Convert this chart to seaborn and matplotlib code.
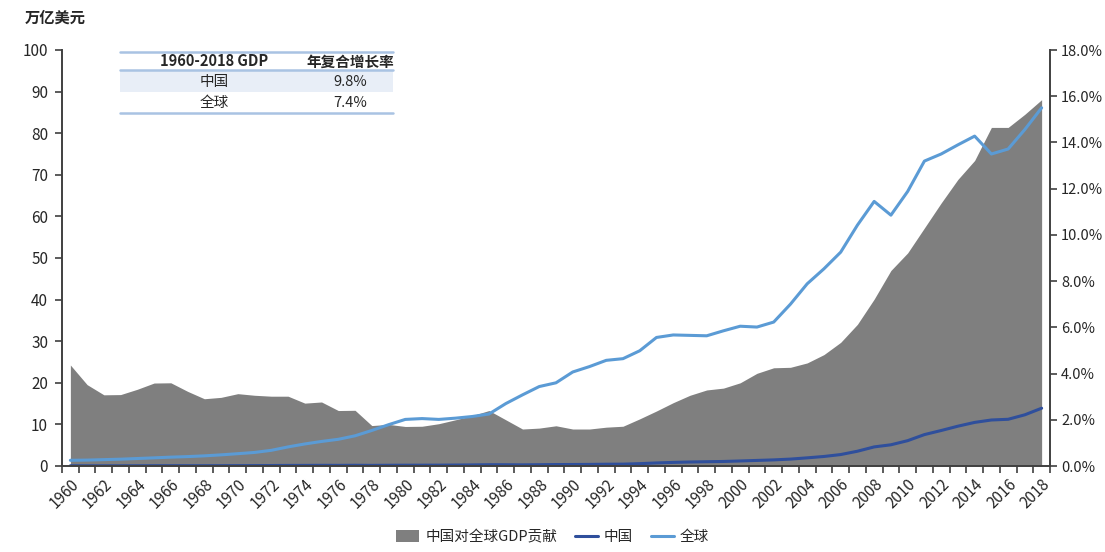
import numpy as np
import pandas as pd
import matplotlib
matplotlib.use("Agg")
import matplotlib.pyplot as plt
from matplotlib.lines import Line2D
from matplotlib.patches import Patch
from matplotlib.ticker import FixedLocator, PercentFormatter
import seaborn as sns

# ---- data -------------------------------------------------------------
years = list(range(1960, 2019))

# GDP, trillion USD
world_gdp = [1.37, 1.42, 1.53, 1.64, 1.80, 1.96, 2.13, 2.26, 2.44, 2.68,
             2.96, 3.26, 3.77, 4.59, 5.30, 5.90, 6.42, 7.26, 8.54, 9.93,
             11.2, 11.4, 11.2, 11.5, 11.9, 12.5, 15.0, 17.1, 19.1, 20.0,
             22.6, 23.9, 25.4, 25.8, 27.7, 30.9, 31.5, 31.4, 31.3, 32.5,
             33.6, 33.4, 34.6, 38.9, 43.8, 47.4, 51.4, 57.9, 63.6, 60.3,
             66.0, 73.3, 75.0, 77.2, 79.3, 75.0, 76.2, 80.9, 86.1]
china_gdp = [0.06, 0.05, 0.047, 0.051, 0.06, 0.07, 0.077, 0.073, 0.071, 0.08,
             0.093, 0.10, 0.114, 0.139, 0.144, 0.163, 0.154, 0.175, 0.15, 0.178,
             0.191, 0.196, 0.205, 0.231, 0.26, 0.309, 0.301, 0.273, 0.313, 0.348,
             0.361, 0.383, 0.427, 0.445, 0.564, 0.735, 0.864, 0.962, 1.03, 1.09,
             1.21, 1.34, 1.47, 1.66, 1.96, 2.29, 2.75, 3.55, 4.59, 5.10,
             6.09, 7.55, 8.53, 9.57, 10.48, 11.06, 11.23, 12.31, 13.89]
# China's share of world GDP, %
china_share = [4.37, 3.52, 3.08, 3.09, 3.32, 3.59, 3.60, 3.23, 2.91, 2.97,
               3.13, 3.06, 3.02, 3.02, 2.72, 2.77, 2.40, 2.41, 1.75, 1.80,
               1.71, 1.72, 1.83, 2.00, 2.18, 2.40, 2.00, 1.60, 1.64, 1.74,
               1.60, 1.60, 1.68, 1.72, 2.04, 2.38, 2.74, 3.06, 3.29, 3.37,
               3.60, 4.01, 4.25, 4.27, 4.46, 4.82, 5.35, 6.13, 7.22, 8.46,
               9.22, 10.30, 11.38, 12.40, 13.22, 14.65, 14.65, 15.22, 15.85]

table_header = ["1960-2018 GDP", "年复合增长率"]
table_rows = [["中国", "9.8%"], ["全球", "7.4%"]]

label_area = "中国对全球GDP贡献"
label_china = "中国"
label_world = "全球"
left_unit = "万亿美元"

df = pd.DataFrame({"year": years, "world": world_gdp,
                   "china": china_gdp, "share": china_share})

# ---- style ------------------------------------------------------------
sns.set_theme(style="white")
plt.rcParams["font.family"] = ["Noto Sans CJK SC", "DejaVu Sans"]

c_area = "#7f7f7f"
c_china = "#2f4f9c"
c_world = "#5b9bd5"
c_axis = "#404040"
c_text = "#262626"

fig = plt.figure(figsize=(11.05, 5.52), dpi=100)
ax = fig.add_axes([62 / 1105, 1 - 466 / 552, (1050 - 62) / 1105, (466 - 50) / 552])
ax2 = ax.twinx()

# area on the secondary (percentage) axis, kept behind the lines
ax2.fill_between(df["year"], 0, df["share"], color=c_area, linewidth=0, zorder=1)
ax2.set_zorder(ax.get_zorder() - 1)
ax.patch.set_visible(False)
ax2.patch.set_facecolor("white")

sns.lineplot(data=df, x="year", y="china", ax=ax, color=c_china, linewidth=2.2)
sns.lineplot(data=df, x="year", y="world", ax=ax, color=c_world, linewidth=2.2)

# ---- axes -------------------------------------------------------------
ax.set_xlim(1959.5, 2018.5)
ax.set_ylim(0, 100)
ax2.set_ylim(0, 18)
ax.set_xlabel("")
ax.set_ylabel("")
ax2.set_ylabel("")

ax.set_yticks(np.arange(0, 101, 10))
ax2.set_yticks(np.arange(0, 18.1, 2))
ax2.yaxis.set_major_formatter(PercentFormatter(decimals=1))

ax.set_xticks(years[::2])
ax.set_xticklabels([str(y) for y in years[::2]], rotation=45,
                   ha="right", va="top", rotation_mode="anchor")
ax.xaxis.set_minor_locator(FixedLocator(np.arange(1959.5, 2019, 1)))
ax.tick_params(axis="x", which="major", length=0, pad=7,
               labelsize=11, labelcolor=c_text)
ax.tick_params(axis="x", which="minor", length=5, width=1.2,
               color=c_axis, direction="out", bottom=True)
ax.tick_params(axis="y", length=5, width=1.2, color=c_axis, direction="out",
               left=True, labelsize=11, labelcolor=c_text, pad=5)
ax2.tick_params(axis="y", length=5, width=1.2, color=c_axis, direction="out",
                right=True, labelsize=10.5, labelcolor=c_text, pad=3)

for a in (ax, ax2):
    a.spines["top"].set_visible(False)
    for s in ("left", "right", "bottom"):
        a.spines[s].set_color(c_axis)
        a.spines[s].set_linewidth(1.4)
ax2.spines["left"].set_visible(False)
ax2.spines["bottom"].set_visible(False)
ax.spines["right"].set_visible(False)
ax.grid(False)
ax2.grid(False)

fig.text(25 / 1105, 1 - 18 / 552, left_unit, ha="left", va="center",
         fontsize=11, fontweight="bold", color=c_text)

# ---- summary table ----------------------------------------------------
def fx(px):
    return px / 1105


def fy(py):
    return 1 - py / 552


tx0, tx1 = 120, 393
col_c = [214, 350]
line_c = "#a9c3e3"
fig.patches.append(plt.Rectangle((fx(tx0), fy(92)), fx(tx1) - fx(tx0),
                                 fy(71) - fy(92), transform=fig.transFigure,
                                 facecolor="#e8eef7", edgecolor="none"))
for py in (52, 70, 113):
    fig.add_artist(Line2D([fx(tx0), fx(tx1)], [fy(py), fy(py)],
                          transform=fig.transFigure, color=line_c, linewidth=1.8))
for cx, txt in zip(col_c, table_header):
    fig.text(fx(cx), fy(61.5), txt, ha="center", va="center",
             fontsize=10.5, fontweight="bold", color=c_text)
for py, row in zip((82, 103), table_rows):
    for cx, txt in zip(col_c, row):
        fig.text(fx(cx), fy(py), txt, ha="center", va="center",
                 fontsize=10.5, color=c_text)

# ---- legend -----------------------------------------------------------
handles = [Patch(facecolor=c_area, edgecolor="none"),
           Line2D([], [], color=c_china, linewidth=2.2),
           Line2D([], [], color=c_world, linewidth=2.2)]
fig.legend(handles, [label_area, label_china, label_world],
           loc="center", bbox_to_anchor=(0.5, 1 - 537 / 552), ncol=3,
           frameon=False, fontsize=10.5, handlelength=1.6, handletextpad=0.4,
           columnspacing=1.2, handleheight=0.9)

fig.savefig("out.png", dpi=100, facecolor="white")
